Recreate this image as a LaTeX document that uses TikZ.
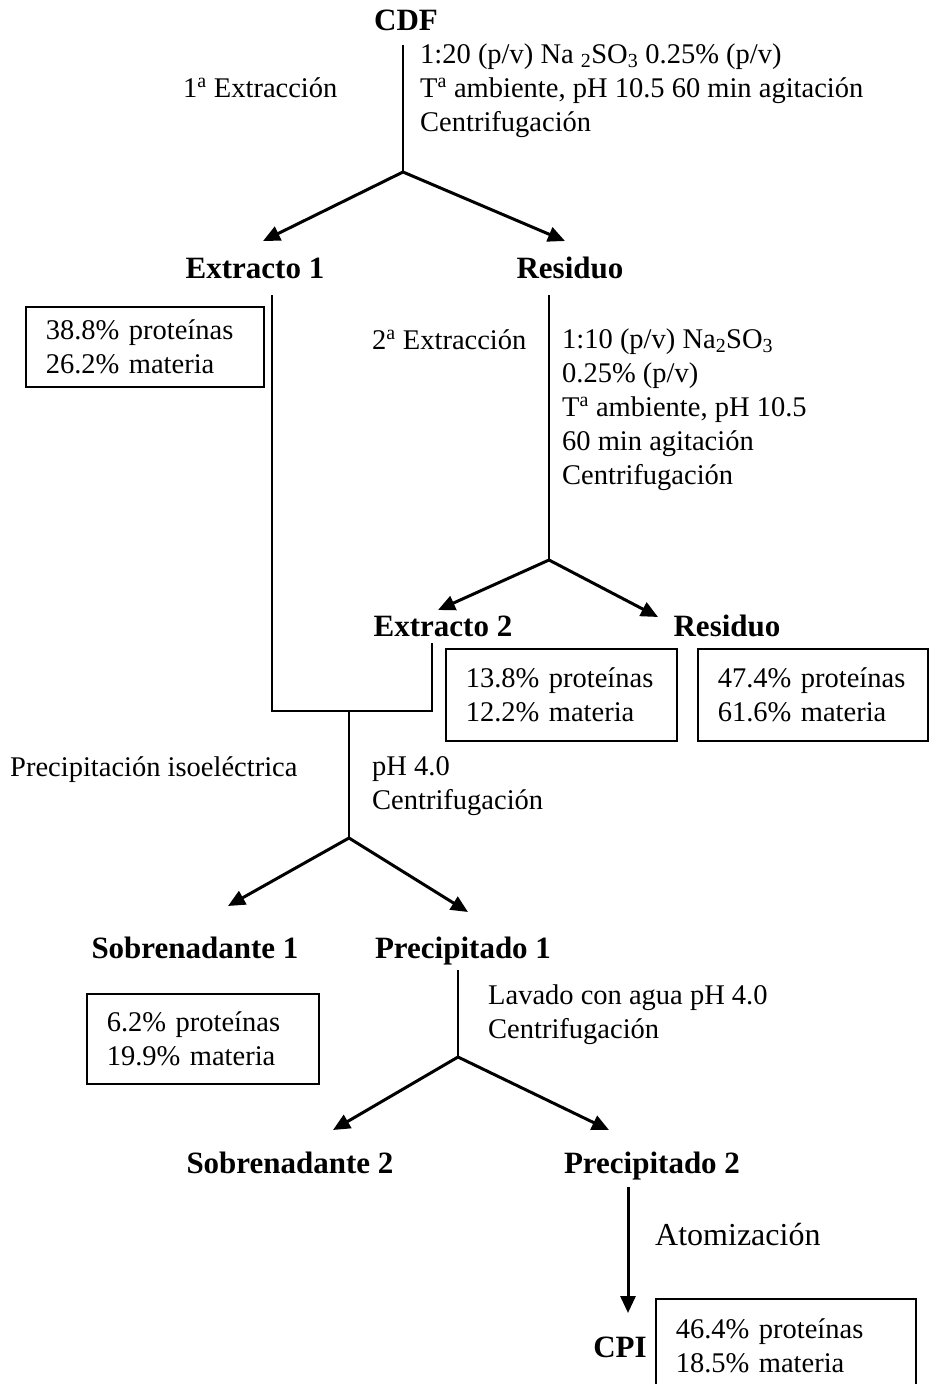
\documentclass[tikz,border=0pt]{standalone}
\usepackage{fontspec}
\setmainfont{Liberation Serif}
\usetikzlibrary{arrows.meta}

\begin{document}
\begin{tikzpicture}[x=1pt,y=-1pt,
        tit/.style={font=\fontsize{31}{36}\selectfont\bfseries, inner sep=0pt, anchor=base},
        txt/.style={font=\fontsize{28.5}{34}\selectfont, inner sep=0pt, align=left, anchor=base west},
        caja/.style={draw, line width=1.5pt, font=\fontsize{28.5}{34}\selectfont, align=left,
                inner xsep=20pt, inner ysep=0pt, anchor=north west},
        linea/.style={line width=1.6pt},
        flecha/.style={line width=3pt, -{Triangle[length=17pt,width=15pt]}}]%Obtención del CPI
        \useasboundingbox (0,0) rectangle (930,1384);

        %productos
        \node[tit] (cdf) at (406,30) {CDF};
        \node[tit] (ext1) at (255,278) {Extracto 1};
        \node[tit] (res1) at (570,278) {Residuo};
        \node[tit] (ext2) at (443,636) {Extracto 2};
        \node[tit] (res2) at (727,636) {Residuo};
        \node[tit] (sob1) at (195,958) {Sobrenadante 1};
        \node[tit] (pre1) at (463,958) {Precipitado 1};
        \node[tit] (sob2) at (290,1173) {Sobrenadante 2};
        \node[tit] (pre2) at (652,1173) {Precipitado 2};
        \node[tit] (cpi) at (620,1357) {CPI};

        %condiciones (base = ultima linea)
        \node[txt] (ex1) at (183,97) {1\textsuperscript{a} Extracción};
        \node[txt] (cond1) at (420,131) {1:20 (p/v) Na \textsubscript{2}SO\textsubscript{3} 0.25\% (p/v)\\
                T\textsuperscript{a} ambiente, pH 10.5 60 min agitación\\Centrifugación};
        \node[txt] (ex2) at (372,349) {2\textsuperscript{a} Extracción};
        \node[txt] (cond2) at (562,484) {1:10 (p/v) Na\textsubscript{2}SO\textsubscript{3}\\0.25\% (p/v)\\
                T\textsuperscript{a} ambiente, pH 10.5\\60 min agitación\\Centrifugación};
        \node[txt] (pi) at (10,776) {Precipitación isoeléctrica};
        \node[txt] (cond3) at (372,809) {pH 4.0\\Centrifugación};
        \node[txt] (cond4) at (488,1038) {Lavado con agua pH 4.0\\Centrifugación};
        \node[txt, font=\fontsize{32}{36}\selectfont] (ato) at (655,1245) {Atomización};

        %composiciones
        \node[caja, text width=198pt, minimum height=80pt] (b1) at (25,306) {38.8\% proteínas\\26.2\% materia};
        \node[caja, text width=191pt, minimum height=92pt] (b2) at (445,648) {13.8\% proteínas\\12.2\% materia};
        \node[caja, text width=190pt, minimum height=92pt] (b3) at (697,648) {47.4\% proteínas\\61.6\% materia};
        \node[caja, text width=192pt, minimum height=90pt] (b4) at (86,993) {6.2\% proteínas\\19.9\% materia};
        \node[caja, text width=220pt, minimum height=94pt] (b5) at (655,1298) {46.4\% proteínas\\18.5\% materia};

        \coordinate (j1) at (403,172);
        \coordinate (j2) at (549,560);
        \coordinate (c1) at (272,711);
        \coordinate (c2) at (432,711);
        \coordinate (m) at (349,711);
        \coordinate (j3) at (349,838);
        \coordinate (j4) at (458,1057);

        \draw[linea, shorten <=15pt] (cdf.base -| j1) -- (j1);
        \draw[flecha] (j1) -- ([xshift=8pt,yshift=37pt]ext1.base);
        \draw[flecha] (j1) -- ([xshift=-5pt,yshift=37pt]res1.base);

        \draw[linea, shorten <=17pt] (res1.base -| j2) -- (j2);
        \draw[flecha] (j2) -- ([xshift=-5pt,yshift=26pt]ext2.base);
        \draw[flecha] (j2) -- ([xshift=-69pt,yshift=19pt]res2.base);

        \draw[linea, shorten <=17pt, shorten >=7pt] (c1 |- ext1.base) -- (c1) -- (c2) -- (c2 |- ext2.base);
        \draw[linea] (m) -- (j3);
        \draw[flecha] (j3) -- ([xshift=33pt,yshift=52pt]sob1.base);
        \draw[flecha] (j3) -- ([xshift=5pt,yshift=46pt]pre1.base);

        \draw[linea, shorten <=12pt] (pre1.base -| j4) -- (j4);
        \draw[flecha] (j4) -- ([xshift=43pt,yshift=43pt]sob2.base);
        \draw[flecha] (j4) -- ([xshift=-43pt,yshift=43pt]pre2.base);

        \draw[flecha] ([xshift=-24pt,yshift=-14pt]pre2.base) -- ([xshift=8pt,yshift=44pt]cpi.base);
    \end{tikzpicture}
\end{document}
